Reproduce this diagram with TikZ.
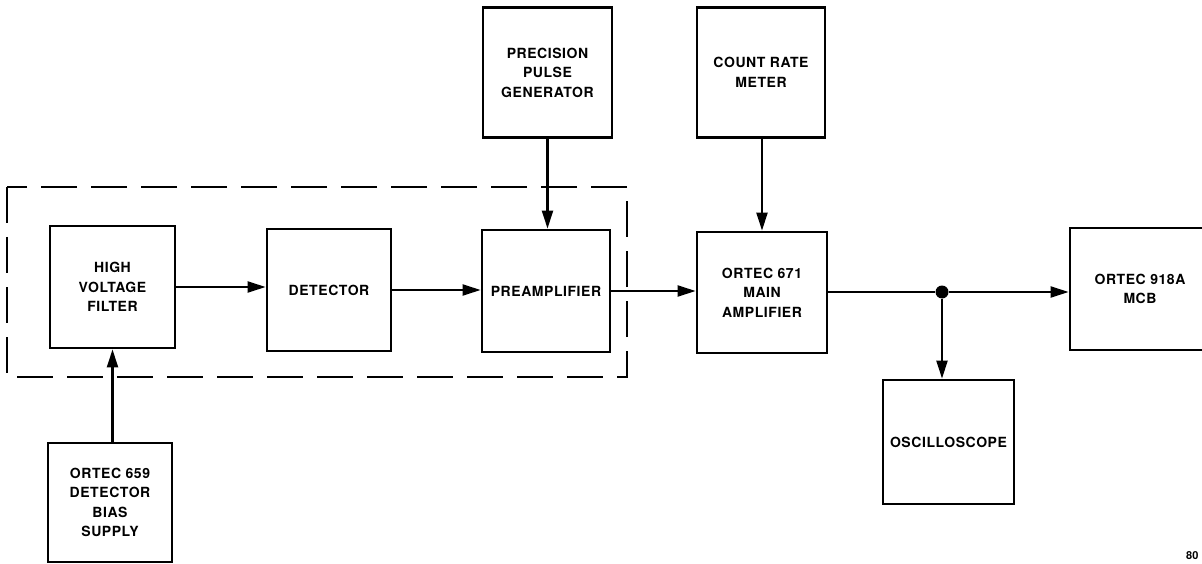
\documentclass[tikz,border=0pt]{standalone}
\usepackage{fontspec}
\setmainfont{TeX Gyre Heros}
\newfontfamily\labelfont[LetterSpace=4]{TeX Gyre Heros}
\usetikzlibrary{arrows.meta}
\tikzset{
  blk/.style={draw=black, line width=2.8pt, rectangle, inner sep=0pt,
    align=center, font=\labelfont\bfseries\fontsize{14}{19.5}\selectfont},
  conn/.style={line width=2.2pt, -{Triangle[length=18pt,width=11pt]}},
  plain/.style={line width=2.2pt},
  boundary/.style={line width=2.2pt, dash pattern=on 36pt off 14pt},
  junction/.style={circle, fill=black, inner sep=0pt, minimum size=13pt},
}
\begin{document}
\begin{tikzpicture}[x=1pt,y=-1pt]
\useasboundingbox (0,0) rectangle (1202,564);
% boxes
\node[blk, minimum width=125pt, minimum height=122pt] (hv) at (112.5,287) {HIGH\\VOLTAGE\\FILTER};
\node[blk, minimum width=124pt, minimum height=122pt] (det) at (329,290) {DETECTOR};
\node[blk, minimum width=128pt, minimum height=122pt] (pre) at (546,291) {PREAMPLIFIER};
\node[blk, minimum width=129pt, minimum height=130pt] (pulse) at (547.5,72.5) {PRECISION\\PULSE\\GENERATOR};
\node[blk, minimum width=128pt, minimum height=130pt] (crm) at (761,72.5) {COUNT RATE\\METER};
\node[blk, minimum width=130pt, minimum height=121pt] (amp) at (762,292.5) {ORTEC 671\\MAIN\\AMPLIFIER};
\node[blk, minimum width=140pt, minimum height=122pt] (mcb) at (1140,289) {ORTEC 918A\\MCB};
\node[blk, minimum width=131pt, minimum height=124pt] (osc) at (948.5,442) {OSCILLOSCOPE};
\node[blk, minimum width=124pt, minimum height=119pt] (bias) at (110,502.5) {ORTEC 659\\DETECTOR\\BIAS\\SUPPLY};
% dashed enclosure
\coordinate (encA) at (7,187);
\coordinate (encB) at (627,377);
\draw[boundary] (encA) rectangle (encB);
% junction
\node[junction] (j) at (942,292) {};
% connectors
\draw[conn] (bias.north -| hv.south) -- (hv.south);
\draw[conn] (hv.east) -- (hv.east -| det.west);
\draw[conn] (det.east) -- (det.east -| pre.west);
\draw[conn] (pre.east) -- (pre.east -| amp.west);
\draw[conn] (pulse.south) -- (pulse.south |- pre.north);
\draw[conn] (amp.north |- crm.south) -- (amp.north);
\draw[plain] (amp.east |- j) -- (j);
\draw[conn] (j) -- (j -| mcb.west);
\draw[conn] (j) -- (j |- osc.north);
% figure number
\node[font=\bfseries\fontsize{11}{12}\selectfont, anchor=west, inner sep=0pt] (fig) at (1186,556) {80};
\end{tikzpicture}
\end{document}
